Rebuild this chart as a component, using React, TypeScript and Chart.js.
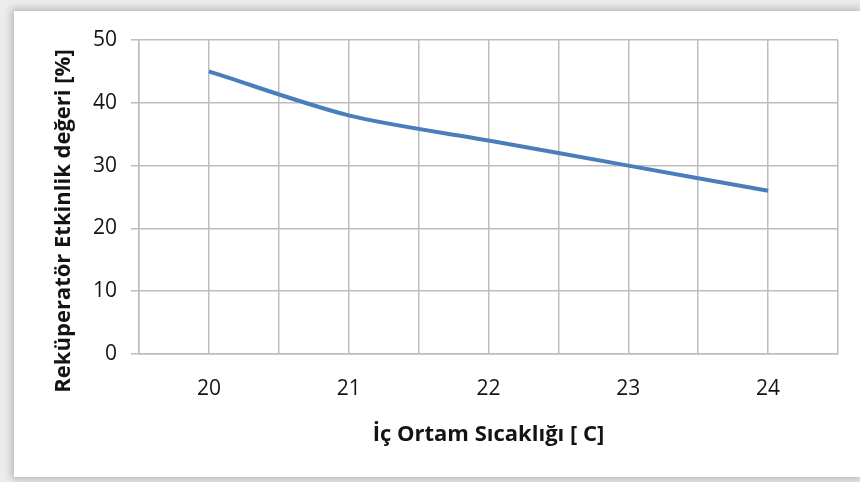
import React, { useEffect, useRef } from "react";
import { Chart, registerables } from "chart.js";

Chart.register(...registerables);

const categories = [20, 21, 22, 23, 24];
const efficiency = [45, 38, 34, 30, 26];
const yMin = 0;
const yMax = 50;
const yStep = 10;
const xTitle = "İç Ortam Sıcaklığı [ C]";
const yTitle = "Reküperatör Etkinlik değeri [%]";

const FONT = "'Open Sans', Lato, sans-serif";
const TEXT = "#141414";
const GRID = "#bdbdbd";

const yTitlePlugin = {
  id: "yTitleCustom",
  afterDraw(chart: any) {
    const { ctx, chartArea } = chart;
    ctx.save();
    ctx.translate(chartArea.left - 75, (chartArea.top + chartArea.bottom) / 2 + 24);
    ctx.rotate(-Math.PI / 2);
    ctx.font = `bold 22px ${FONT}`;
    ctx.fillStyle = TEXT;
    ctx.textAlign = "center";
    ctx.textBaseline = "middle";
    ctx.fillText(yTitle, 0, 0);
    ctx.restore();
  },
};

export default function App() {
  const ref = useRef<HTMLCanvasElement | null>(null);

  useEffect(() => {
    if (!ref.current) return;
    const chart = new Chart(ref.current, {
      type: "line",
      data: {
        datasets: [
          {
            data: categories.map((c, i) => ({ x: c, y: efficiency[i] })),
            borderColor: "#4a7ebb",
            borderWidth: 4,
            pointRadius: 0,
            tension: 0.3,
            fill: false,
          },
        ],
      },
      options: {
        animation: false,
        responsive: false,
        layout: { padding: { left: 0, top: 40, right: 22, bottom: 0 } },
        plugins: { legend: { display: false }, tooltip: { enabled: false } },
        scales: {
          x: {
            type: "linear",
            min: categories[0] - 0.5,
            max: categories[categories.length - 1] + 0.5,
            afterFit: (s: any) => {
              s.height = 128;
              s.paddingRight = 0;
              s.paddingLeft = 0;
            },
            ticks: {
              stepSize: 0.5,
              autoSkip: false,
              maxRotation: 0,
              padding: 22,
              color: TEXT,
              font: { family: FONT, size: 21 },
              callback: (v: any) => (Number.isInteger(Number(v)) ? String(v) : ""),
            },
            grid: { color: GRID, lineWidth: 1.5, drawTicks: false },
            border: { color: GRID, width: 1.5 },
            title: {
              display: true,
              text: xTitle,
              color: TEXT,
              font: { family: FONT, size: 22, weight: "bold" },
              padding: { top: 0, bottom: 34 },
            },
          },
          y: {
            min: yMin,
            max: yMax,
            afterFit: (s: any) => {
              s.width = 139;
              s.paddingTop = 0;
              s.paddingBottom = 0;
            },
            ticks: {
              stepSize: yStep,
              padding: 14,
              color: TEXT,
              font: { family: FONT, size: 21 },
            },
            grid: { color: GRID, lineWidth: 1.5, tickLength: 8 },
            border: { color: GRID, width: 1.5 },
          },
        },
      },
      plugins: [yTitlePlugin],
    });
    return () => chart.destroy();
  }, []);

  return (
    <div
      style={{
        position: "absolute",
        left: 0,
        top: 0,
        width: 860,
        height: 482,
        overflow: "hidden",
        background: "#ececec",
      }}
    >
      <div
        style={{
          position: "absolute",
          left: 14,
          top: 11,
          width: 846,
          height: 466,
          background: "#ffffff",
          boxShadow: "0 0 8px 2px rgba(0,0,0,0.25)",
        }}
      />
      <canvas
        ref={ref}
        width={860}
        height={482}
        style={{ position: "absolute", left: 0, top: 0, width: 860, height: 482 }}
      />
    </div>
  );
}
